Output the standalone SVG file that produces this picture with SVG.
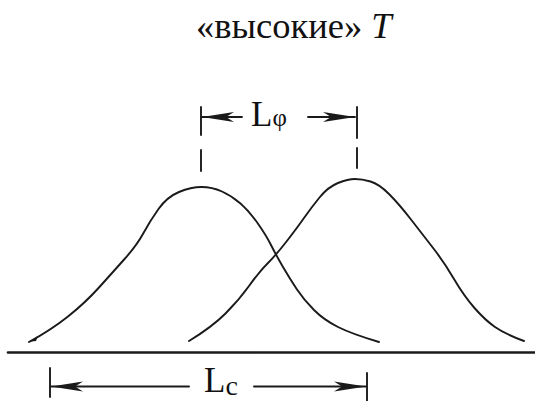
<svg xmlns="http://www.w3.org/2000/svg" width="535" height="401" viewBox="0 0 535 401">
<style>
.ink{fill:none;stroke:#1a1a1a;stroke-linecap:round;stroke-linejoin:round}
.curve{stroke-width:1.9}
.dim{stroke-width:1.9}
.tick{stroke-width:1.9}
.serif{fill:#111}
</style>
<defs>
<marker id="ah" viewBox="0 0 32 12" refX="32" refY="6" markerWidth="32" markerHeight="12" markerUnits="userSpaceOnUse" orient="auto-start-reverse">
<path d="M0,1 L32,6 L0,11 L8,6 Z" fill="#1a1a1a"/>
</marker>
</defs>
<rect width="535" height="401" fill="#fff"/>
<g id="title">
<text class="serif" font-family="Liberation Serif, DejaVu Serif, Times New Roman, serif" x="196" y="38" font-size="36.5">«высокие» <tspan font-style="italic">T</tspan></text>
</g>
<g id="axis">
<line class="ink" x1="8" y1="352.5" x2="535" y2="352.5" stroke-width="2.6"/>
</g>
<g id="curve-left">
<path class="ink curve" d="M29,342 Q51,330 68,316.5 Q85,303 99,287.5 Q113,272 125,258.5 Q137,245 143.5,233 Q150,221 158.5,209 Q167,197 179,192 Q191,187 201.5,187 Q212,187 222,191.5 Q232,196 240.5,203.5 Q249,211 257.5,223 Q266,235 271,245 Q276,255 283,267 Q290,279 297,289.5 Q304,300 314,310 Q324,320 338,327 Q352,334 379,342"/>
<path d="M28,342 L38,336 L36,341 Z" fill="#1a1a1a"/>
</g>
<g id="curve-right">
<path class="ink curve" d="M189,341 Q212,327 225.5,313.5 Q239,300 249,286 Q259,272 267.5,263.5 Q276,255 286.5,241.5 Q297,228 304,218 Q311,208 319.5,197.5 Q328,187 338,183 Q348,179 355,179 Q362,179 370.5,181.5 Q379,184 389,194 Q399,204 411,219.5 Q423,235 433.5,248.5 Q444,262 454,279 Q464,296 474.5,308 Q485,320 495,327 Q505,334 524,341"/>
</g>
<g id="label-Lphi">
<text class="serif" font-family="Liberation Serif, DejaVu Serif, Times New Roman, serif" x="251" y="126" font-size="35">L<tspan font-size="25">φ</tspan></text>
</g>
<g id="label-Lc">
<text class="serif" font-family="Liberation Serif, DejaVu Serif, Times New Roman, serif" x="204" y="392" font-size="35">L<tspan font-size="28" dy="3">c</tspan></text>
</g>
<g id="connectors">
<line class="ink tick" x1="201" y1="107" x2="201" y2="135"/>
<line class="ink tick" x1="357" y1="107" x2="357" y2="138"/>
<line class="ink tick" x1="201" y1="150" x2="201" y2="171"/>
<line class="ink tick" x1="357" y1="148" x2="357" y2="168"/>
<line class="ink dim" x1="242" y1="117" x2="202" y2="117" marker-end="url(#ah)"/>
<line class="ink dim" x1="308" y1="117" x2="355" y2="117" marker-end="url(#ah)"/>
<line class="ink tick" x1="50" y1="368" x2="50" y2="397"/>
<line class="ink tick" x1="367" y1="373" x2="367" y2="401"/>
<line class="ink dim" x1="189" y1="386.5" x2="51" y2="386.5" marker-end="url(#ah)"/>
<line class="ink dim" x1="254" y1="386.5" x2="366" y2="386.5" marker-end="url(#ah)"/>
</g>
</svg>
